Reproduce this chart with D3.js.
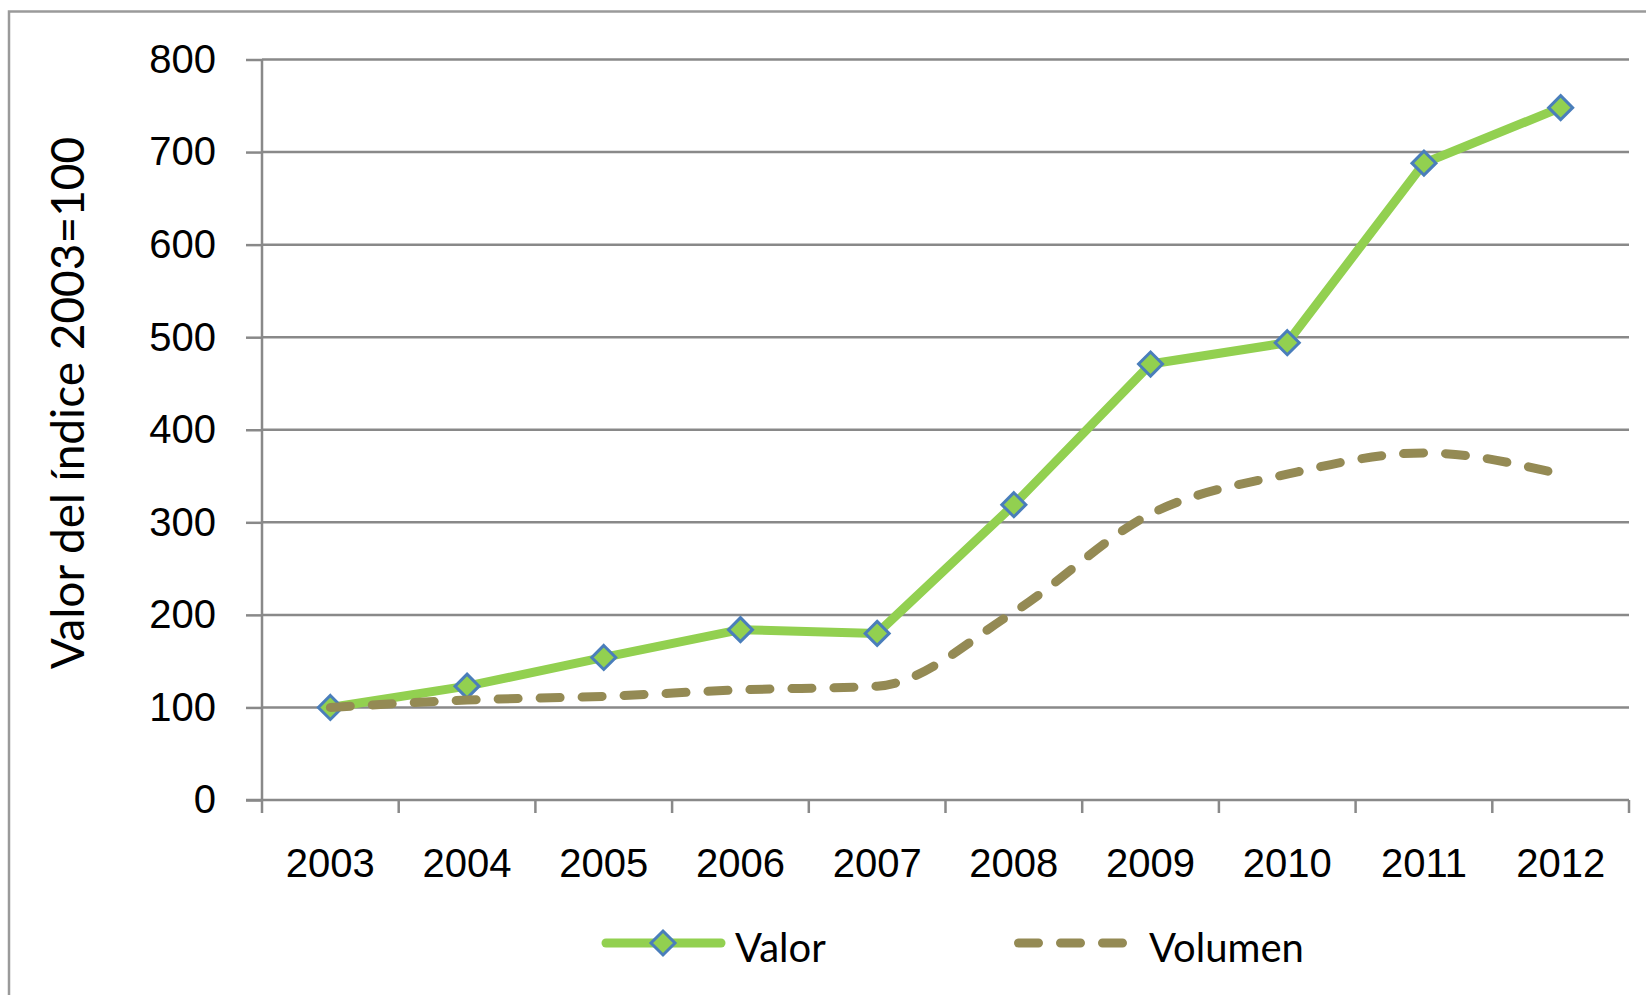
<!DOCTYPE html>
<meta charset="utf-8">
<style>
body { margin: 0; background: #fff; }
svg { display: block; font-family: Lato, sans-serif; }
.grid line { stroke: #898989; stroke-width: 2.5px; }
.axis text { font-size: 40px; fill: #000; }
</style>
<body>
<svg width="1646" height="995"></svg>
<script src="https://d3js.org/d3.v7.min.js"></script>
<script>
var years = ["2003", "2004", "2005", "2006", "2007", "2008", "2009", "2010", "2011", "2012"];
var valor = [100, 123, 154, 184, 180, 319, 471, 494, 688, 748];
var volumen = [100, 108, 112, 119, 123, 203, 309, 352, 375, 352];
var yTicks = [0, 100, 200, 300, 400, 500, 600, 700, 800];

var green = "#92d050", olive = "#948a54", blue = "#4a7ebb", gray = "#898989";

var svg = d3.select("svg");

var x = d3.scaleBand().domain(years).range([262, 1629]);
var y = d3.scaleLinear().domain([0, 800]).range([800, 59.5]);

// chart frame (runs off the right and bottom edge)
svg.append("path")
    .attr("d", "M9,1000V11.5H1700")
    .attr("fill", "none")
    .attr("stroke", "#9a9a9a")
    .attr("stroke-width", 2.5);

// gridlines
svg.append("g")
    .attr("class", "grid")
  .selectAll("line")
  .data(yTicks.slice(1))
  .enter().append("line")
    .attr("x1", 262).attr("x2", 1629)
    .attr("y1", function(d) { return y(d); })
    .attr("y2", function(d) { return y(d); });

// y axis
var yAxis = svg.append("g")
    .attr("class", "axis")
    .attr("transform", "translate(262,0)")
    .call(d3.axisLeft(y).tickValues(yTicks).tickSize(16).tickPadding(30));
yAxis.selectAll("line, path").attr("stroke", gray).attr("stroke-width", 2.5);
yAxis.select(".domain").attr("d", "M0," + y(800) + "V" + y(0));

// x axis line and boundary ticks
var bounds = years.map(function(d) { return x(d); }).concat([x.range()[1]]);
svg.append("line")
    .attr("x1", 246).attr("x2", 1629)
    .attr("y1", y(0)).attr("y2", y(0))
    .attr("stroke", gray).attr("stroke-width", 2.5);
svg.append("g").selectAll("line")
  .data(bounds)
  .enter().append("line")
    .attr("x1", function(d) { return d; })
    .attr("x2", function(d) { return d; })
    .attr("y1", y(0)).attr("y2", y(0) + 13)
    .attr("stroke", gray).attr("stroke-width", 2.5);

var xAxis = svg.append("g")
    .attr("class", "axis")
    .attr("transform", "translate(0," + y(0) + ")")
    .call(d3.axisBottom(x).tickSize(0).tickPadding(49));
xAxis.select(".domain").remove();

// axis title
svg.append("text")
    .attr("transform", "translate(84,403) rotate(-90)")
    .attr("text-anchor", "middle")
    .style("font-size", "46px")
    .text("Valor del índice 2003=100");

var cx = function(d, i) { return x(years[i]) + x.bandwidth() / 2; };

var diamond = "M0,-12L12,0L0,12L-12,0Z";

// Valor
svg.append("path")
    .datum(valor)
    .attr("fill", "none")
    .attr("stroke", green)
    .attr("stroke-width", 9)
    .attr("stroke-linejoin", "round")
    .attr("d", d3.line().x(cx).y(function(d) { return y(d); }));

svg.append("g").selectAll("path")
  .data(valor)
  .enter().append("path")
    .attr("d", diamond)
    .attr("transform", function(d, i) { return "translate(" + cx(d, i) + "," + y(d) + ")"; })
    .attr("fill", green)
    .attr("stroke", blue)
    .attr("stroke-width", 3);

// Volumen (smoothed, dashed)
svg.append("path")
    .datum(volumen)
    .attr("fill", "none")
    .attr("stroke", olive)
    .attr("stroke-width", 9)
    .attr("stroke-linecap", "round")
    .attr("stroke-dasharray", "20 22")
    .attr("d", d3.line().curve(d3.curveMonotoneX).x(cx).y(function(d) { return y(d); }));

// legend
var legend = svg.append("g").style("font-size", "40px");
legend.append("line")
    .attr("x1", 606).attr("x2", 721).attr("y1", 943).attr("y2", 943)
    .attr("stroke", green).attr("stroke-width", 9).attr("stroke-linecap", "round");
legend.append("path")
    .attr("d", diamond)
    .attr("transform", "translate(663,943)")
    .attr("fill", green).attr("stroke", blue).attr("stroke-width", 3);
legend.append("text").attr("x", 735).attr("y", 948).attr("dy", "0.36em").text("Valor");

legend.append("line")
    .attr("x1", 1018.5).attr("x2", 1123.5).attr("y1", 943).attr("y2", 943)
    .attr("stroke", olive).attr("stroke-width", 9)
    .attr("stroke-linecap", "round").attr("stroke-dasharray", "20 22");
legend.append("text").attr("x", 1149).attr("y", 948).attr("dy", "0.36em").text("Volumen");
</script>
</body>
